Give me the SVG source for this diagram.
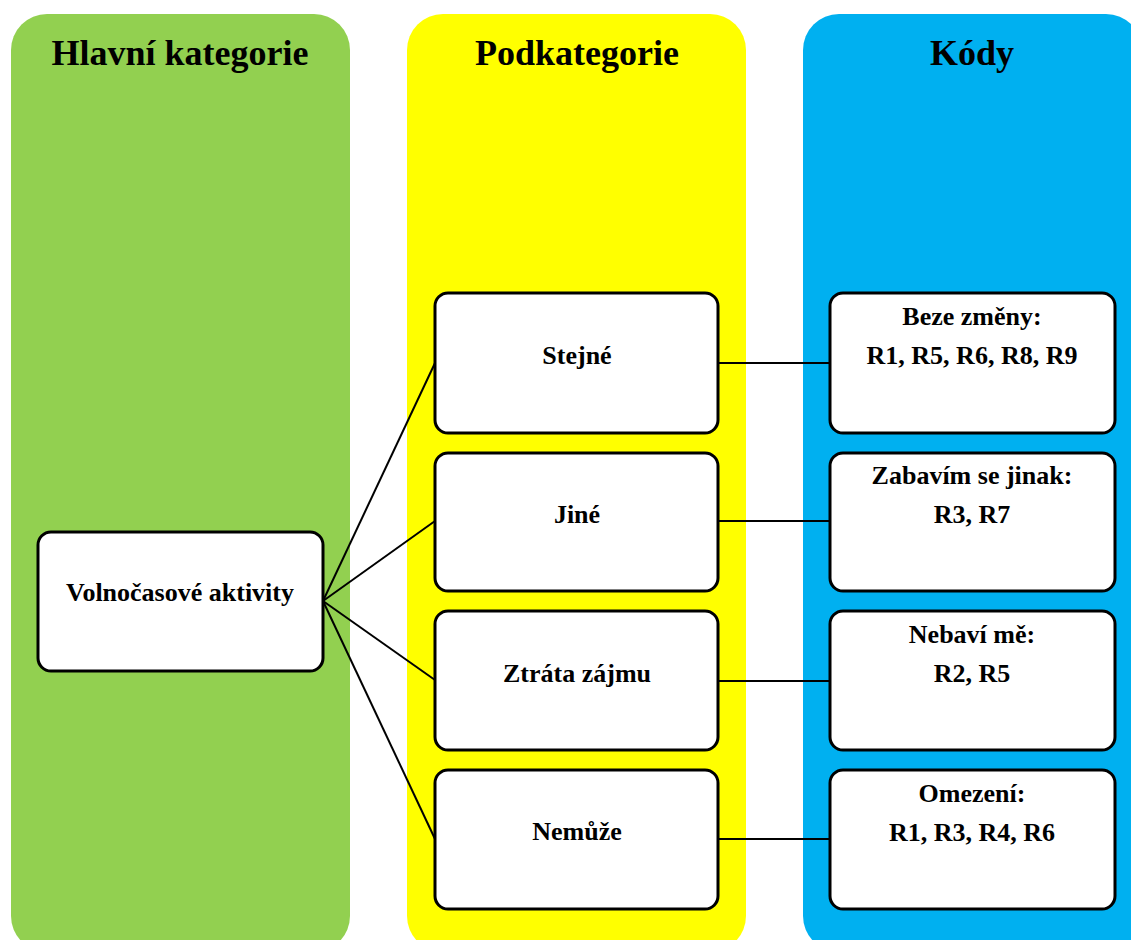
<svg xmlns="http://www.w3.org/2000/svg" width="1131" height="940" viewBox="0 0 1131 940">
  <style>
    .col { stroke: none; }
    .box { fill: #ffffff; stroke: #000000; stroke-width: 3; }
    .head { font-family: "Liberation Serif", "Times New Roman", serif; font-weight: bold; font-size: 36px; fill: #000; text-anchor: middle; }
    .lbl { font-family: "Liberation Serif", "Times New Roman", serif; font-weight: bold; font-size: 26px; fill: #000; text-anchor: middle; }
    .link { stroke: #000000; stroke-width: 2; fill: none; }
  </style>
  <rect width="1131" height="940" fill="#ffffff"/>

  <!-- column backgrounds -->
  <g id="columns">
    <rect class="col" x="11" y="14" width="339" height="938" rx="36" ry="36" fill="#92D050"/>
    <rect class="col" x="407" y="14" width="339" height="938" rx="36" ry="36" fill="#FFFF00"/>
    <rect class="col" x="803" y="14" width="339" height="938" rx="36" ry="36" fill="#00B0F0"/>
    <text class="head" x="180" y="65">Hlavní kategorie</text>
    <text class="head" x="577" y="65">Podkategorie</text>
    <text class="head" x="972" y="65">Kódy</text>
  </g>

  <!-- connectors -->
  <g id="connectors">
    <line class="link" x1="323" y1="601" x2="435" y2="363"/>
    <line class="link" x1="323" y1="601" x2="435" y2="521"/>
    <line class="link" x1="323" y1="601" x2="435" y2="680"/>
    <line class="link" x1="323" y1="601" x2="435" y2="839"/>
    <line class="link" x1="718" y1="363" x2="830" y2="363"/>
    <line class="link" x1="718" y1="521" x2="830" y2="521"/>
    <line class="link" x1="718" y1="681" x2="830" y2="681"/>
    <line class="link" x1="718" y1="839" x2="830" y2="839"/>
  </g>

  <!-- main category -->
  <g id="main">
    <rect class="box" x="38" y="532" width="285" height="139" rx="13"/>
    <text class="lbl" x="180" y="601">Volnočasové aktivity</text>
  </g>

  <!-- subcategories -->
  <g id="sub-stejne">
    <rect class="box" x="435" y="293" width="283" height="140" rx="13"/>
    <text class="lbl" x="577" y="364">Stejné</text>
  </g>
  <g id="sub-jine">
    <rect class="box" x="435" y="453" width="283" height="138" rx="13"/>
    <text class="lbl" x="577" y="523">Jiné</text>
  </g>
  <g id="sub-ztrata">
    <rect class="box" x="435" y="611" width="283" height="139" rx="13"/>
    <text class="lbl" x="577" y="682">Ztráta zájmu</text>
  </g>
  <g id="sub-nemuze">
    <rect class="box" x="435" y="770" width="283" height="139" rx="13"/>
    <text class="lbl" x="577" y="840">Nemůže</text>
  </g>

  <!-- codes -->
  <g id="code-beze">
    <rect class="box" x="830" y="293" width="285" height="140" rx="13"/>
    <text class="lbl" x="972" y="325">Beze změny:</text>
    <text class="lbl" x="972" y="364">R1, R5, R6, R8, R9</text>
  </g>
  <g id="code-zabavim">
    <rect class="box" x="830" y="453" width="285" height="138" rx="13"/>
    <text class="lbl" x="972" y="484">Zabavím se jinak:</text>
    <text class="lbl" x="972" y="523">R3, R7</text>
  </g>
  <g id="code-nebavi">
    <rect class="box" x="830" y="611" width="285" height="139" rx="13"/>
    <text class="lbl" x="972" y="643">Nebaví mě:</text>
    <text class="lbl" x="972" y="682">R2, R5</text>
  </g>
  <g id="code-omezeni">
    <rect class="box" x="830" y="770" width="285" height="139" rx="13"/>
    <text class="lbl" x="972" y="802">Omezení:</text>
    <text class="lbl" x="972" y="841">R1, R3, R4, R6</text>
  </g>
</svg>
